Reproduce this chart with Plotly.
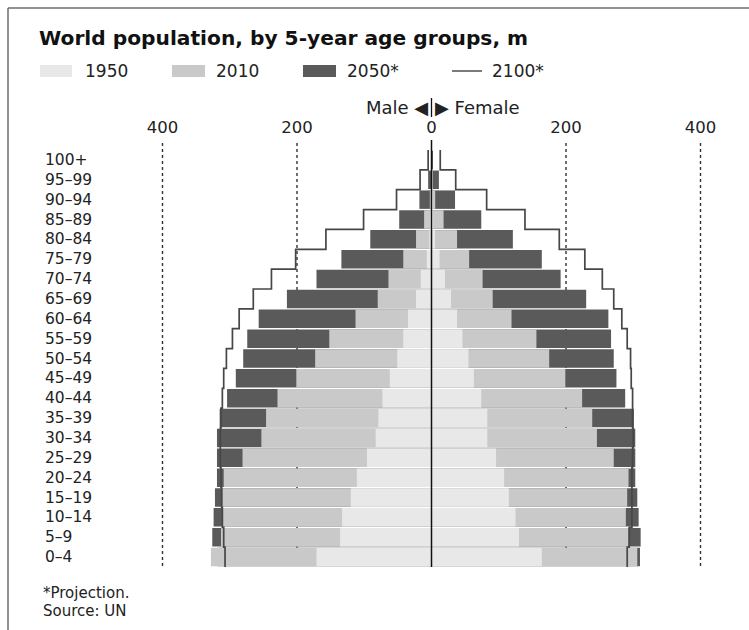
import plotly.graph_objects as go

# Age groups, youngest first
ages = ["0–4", "5–9", "10–14", "15–19", "20–24", "25–29", "30–34", "35–39",
        "40–44", "45–49", "50–54", "55–59", "60–64", "65–69", "70–74", "75–79",
        "80–84", "85–89", "90–94", "95–99", "100+"]

# Population in millions
male_1950 = [171, 136, 133, 120, 111, 96, 83, 79, 73, 62, 51, 42, 35, 23, 16, 7, 3.2, 1.5, 0.5, 0.1, 0.0]
female_1950 = [164, 130, 125, 115, 108, 96, 83, 83, 74, 63, 55, 46, 38, 29, 20, 12, 5.2, 2.5, 1.0, 0.2, 0.0]
male_2010 = [328, 313, 310, 311, 309, 281, 253, 246, 229, 201, 173, 152, 113, 80, 64, 42, 23, 11, 2.5, 0.5, 0.1]
female_2010 = [306, 293, 289, 291, 293, 271, 246, 239, 224, 199, 175, 156, 119, 91, 76, 56, 38, 18, 5.5, 1.5, 0.3]
male_2050 = [318, 326, 324, 322, 319, 319, 319, 315, 304, 291, 280, 274, 257, 215, 171, 134, 91, 48, 18, 5, 0.6]
female_2050 = [310, 311, 308, 306, 303, 303, 303, 301, 288, 275, 271, 267, 263, 230, 192, 164, 121, 74, 35, 11, 2.0]
male_2100 = [307, 309, 311, 312, 313, 314, 314, 313, 311, 309, 305, 296, 286, 265, 238, 202, 157, 101, 52, 17, 5]
female_2100 = [291, 294, 298, 298, 298, 299, 300, 299, 299, 297, 296, 291, 283, 271, 254, 228, 190, 139, 82, 36, 13]

tick_vals = [-400, -200, 0, 200, 400]
tick_text = ["400", "200", "0", "200", "400"]

C1950, C2010, C2050, CLINE = "#e8e8e8", "#c9c9c9", "#5a5a5a", "#474747"
FONT = "DejaVu Sans"
TXT = "#222222"

W, H = 749, 630
L, R, T, B = 140, 26, 150, 63
PW, PH = W - L - R, H - T - B


def px(x):
    return (x - L) / PW


def py(y):
    return (H - B - y) / PH


rows = list(range(len(ages)))
fig = go.Figure()

# Bars: 2050 at the back, 1950 in front
for vals_m, vals_f, col in [(male_2050, female_2050, C2050),
                             (male_2010, female_2010, C2010),
                             (male_1950, female_1950, C1950)]:
    fig.add_trace(go.Bar(y=rows, x=[-v for v in vals_m], orientation="h",
                         marker=dict(color=col, line=dict(width=0)), hoverinfo="skip"))
    fig.add_trace(go.Bar(y=rows, x=vals_f, orientation="h",
                         marker=dict(color=col, line=dict(width=0)), hoverinfo="skip"))

# 2100 projection as a stepped outline
step_y = [-0.5] + rows + [rows[-1] + 0.5]
for vals, sign in [(male_2100, -1), (female_2100, 1)]:
    xs = [sign * v for v in vals]
    fig.add_trace(go.Scatter(x=[xs[0]] + xs + [xs[-1]], y=step_y, mode="lines",
                             line=dict(color=CLINE, width=1.7, shape="vhv"),
                             hoverinfo="skip"))

shapes = []
# dotted gridlines
for v in [-400, -200, 200, 400]:
    shapes.append(dict(type="line", xref="x", yref="paper", x0=v, x1=v,
                       y0=py(566), y1=py(140), layer="below",
                       line=dict(color="#333333", width=1.4, dash="dot")))
# centre line
shapes.append(dict(type="line", xref="x", yref="paper", x0=0, x1=0,
                   y0=py(567), y1=py(140), layer="above",
                   line=dict(color="#111111", width=1.5)))
# divider between Male and Female arrows
shapes.append(dict(type="line", xref="x", yref="paper", x0=0, x1=0,
                   y0=py(117), y1=py(98), line=dict(color="#111111", width=1.3)))
# frame
shapes.append(dict(type="line", xref="paper", yref="paper", x0=px(8), x1=px(749),
                   y0=py(8), y1=py(8), line=dict(color="#6e6e6e", width=1.5)))
shapes.append(dict(type="line", xref="paper", yref="paper", x0=px(8), x1=px(8),
                   y0=py(8), y1=py(630), line=dict(color="#6e6e6e", width=1.5)))

# legend swatches
for x0, x1, col in [(40, 72, C1950), (172, 205, C2010), (303, 336, C2050)]:
    shapes.append(dict(type="rect", xref="paper", yref="paper",
                       x0=px(x0), x1=px(x1), y0=py(77), y1=py(65),
                       fillcolor=col, line=dict(width=0)))
shapes.append(dict(type="line", xref="paper", yref="paper", x0=px(452), x1=px(482),
                   y0=py(71), y1=py(71), line=dict(color="#222222", width=1.2)))

annotations = [
    dict(text="<b>World population, by 5-year age groups, m</b>", xref="paper", yref="paper",
         x=px(37), y=py(38), xanchor="left", yanchor="middle", showarrow=False,
         font=dict(family=FONT, size=20.2, color="#111111")),
    dict(text="Male ◀", xref="x", yref="paper", x=-2, y=py(107), xanchor="right",
         yanchor="middle", showarrow=False, font=dict(family=FONT, size=18, color=TXT)),
    dict(text="▶ Female", xref="x", yref="paper", x=2, y=py(107), xanchor="left",
         yanchor="middle", showarrow=False, font=dict(family=FONT, size=18, color=TXT)),
    dict(text="*Projection.", xref="paper", yref="paper", x=px(41), y=py(593),
         xanchor="left", yanchor="middle", showarrow=False,
         font=dict(family=FONT, size=15, color=TXT)),
    dict(text="Source: UN", xref="paper", yref="paper", x=px(41), y=py(611),
         xanchor="left", yanchor="middle", showarrow=False,
         font=dict(family=FONT, size=15, color=TXT)),
]
for label, x in [("1950", 83), ("2010", 214), ("2050*", 345), ("2100*", 490)]:
    annotations.append(dict(text=label, xref="paper", yref="paper", x=px(x), y=py(71),
                            xanchor="left", yanchor="middle", showarrow=False,
                            font=dict(family=FONT, size=17, color=TXT)))
# age labels, left aligned
for i, a in enumerate(ages):
    annotations.append(dict(text=a, xref="paper", yref="y", x=px(43), y=i,
                            xanchor="left", yanchor="middle", showarrow=False,
                            font=dict(family=FONT, size=15.5, color=TXT)))

span = (PW / 2) / 0.6725
fig.update_layout(
    width=W, height=H, margin=dict(l=L, r=R, t=T, b=B),
    paper_bgcolor="white", plot_bgcolor="white",
    barmode="overlay", bargap=0.07, showlegend=False,
    xaxis=dict(range=[-span, span], side="top", tickvals=tick_vals, ticktext=tick_text,
               showgrid=False, zeroline=False, showline=False, ticks="outside",
               ticklen=9, tickcolor="rgba(0,0,0,0)",
               tickfont=dict(family=FONT, size=16.5, color=TXT), fixedrange=True),
    yaxis=dict(range=[-0.5, 20.5], showticklabels=False, showgrid=False,
               zeroline=False, showline=False, ticks="", fixedrange=True),
    shapes=shapes, annotations=annotations,
)

fig.write_html("out.html")
